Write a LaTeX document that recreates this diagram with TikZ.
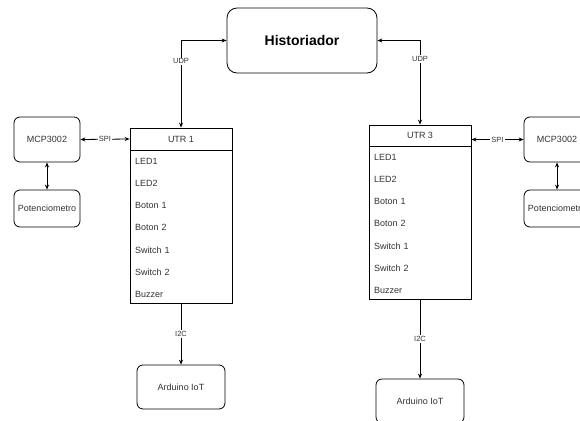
\documentclass[tikz,border=0pt]{standalone}
\usepackage{fontspec}
\setmainfont{Liberation Sans}
\usetikzlibrary{positioning,arrows.meta}
\tikzset{
  device/.style={rectangle, rounded corners=6pt, draw, line width=0.8pt, minimum width=66pt, minimum height=45pt, inner sep=0pt, font=\fontsize{9}{10}\selectfont, text=black!80},
  server/.style={rectangle, rounded corners=10pt, draw, line width=0.8pt, minimum width=150pt, minimum height=65pt, font=\fontsize{14}{16}\selectfont\bfseries},
  utrbody/.style={rectangle, draw, line width=0.8pt, minimum width=102pt, inner sep=0pt},
  utrhead/.style={rectangle, draw, line width=0.8pt, minimum width=102pt, inner sep=0pt, font=\fontsize{9}{10}\selectfont, text=black!80},
  item/.style={text width=92pt, align=left, inner sep=0pt, text height=6.4pt, text depth=0pt, font=\fontsize{9}{10}\selectfont, text=black!80},
  link/.style={line width=0.8pt, {Stealth[length=5pt,width=4pt]}-{Stealth[length=5pt,width=4pt]}},
  feed/.style={line width=0.8pt, -{Stealth[length=5pt,width=4pt]}},
  tag/.style={fill=white, inner sep=1pt, font=\fontsize{7.5}{8}\selectfont, text=black!80}
}
\begin{document}
\begin{tikzpicture}[x=1pt, y=-1pt]
  \useasboundingbox[fill=white] (0,0) rectangle (580,420);
  \clip (0,0) rectangle (580,420);

  % Nodes
  \node (hist) [server] at (302,40.5) {Historiador};

  \node (utr1) [utrbody, minimum height=175pt] at (181,215.5) {};
  \node (utr1head) [utrhead, minimum height=22pt] at (181,139) {UTR 1};
  \node (u1led1) [item] at (181,161) {LED1};
  \node (u1led2) [item, below=15.43pt of u1led1] {LED2};
  \node (u1bot1) [item, below=15.43pt of u1led2] {Boton 1};
  \node (u1bot2) [item, below=15.43pt of u1bot1] {Boton 2};
  \node (u1sw1) [item, below=15.43pt of u1bot2] {Switch 1};
  \node (u1sw2) [item, below=15.43pt of u1sw1] {Switch 2};
  \node (u1buz) [item, below=15.43pt of u1sw2] {Buzzer};

  \node (utr3) [utrbody, minimum height=174pt] at (420,212) {};
  \node (utr3head) [utrhead, minimum height=21pt] at (420,135.5) {UTR 3};
  \node (u3led1) [item] at (420,157) {LED1};
  \node (u3led2) [item, below=15.43pt of u3led1] {LED2};
  \node (u3bot1) [item, below=15.43pt of u3led2] {Boton 1};
  \node (u3bot2) [item, below=15.43pt of u3bot1] {Boton 2};
  \node (u3sw1) [item, below=15.43pt of u3bot2] {Switch 1};
  \node (u3sw2) [item, below=15.43pt of u3sw1] {Switch 2};
  \node (u3buz) [item, below=15.43pt of u3sw2] {Buzzer};

  \node (mcp1) [device] at (47,139.5) {MCP3002};
  \node (pot1) [device, minimum height=37pt] at (47,208.5) {Potenciometro};
  \node (mcp2) [device] at (557,139.5) {MCP3002};
  \node (pot2) [device, minimum height=37pt] at (557,208.5) {Potenciometro};

  \node (ard1) [device, minimum width=88pt, minimum height=44pt] at (181,387) {Arduino IoT};
  \node (ard2) [device, minimum width=88pt, minimum height=44pt] at (420,401) {Arduino IoT};

  % Arrows
  \draw [link] (hist.west) -| node [tag, pos=0.62] {UDP} (utr1head.north);
  \draw [link] (hist.east) -| node [tag, pos=0.61] {UDP} (utr3head.north);
  \draw [link] (mcp1.east) -- node [tag] {SPI} (utr1head.west);
  \draw [link] (mcp2.west -| utr3.east) -- node [tag] {SPI} (mcp2.west);
  \draw [link] (mcp1.south) -- (pot1.north);
  \draw [link] (mcp2.south) -- (pot2.north);
  \draw [feed] (utr1.south) -- node [tag] {I2C} (ard1.north);
  \draw [feed] (utr3.south) -- node [tag] {I2C} (ard2.north);
\end{tikzpicture}
\end{document}
